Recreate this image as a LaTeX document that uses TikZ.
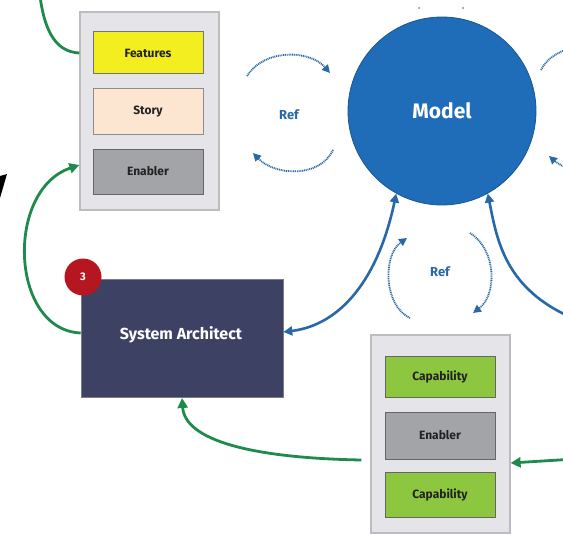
\documentclass[tikz,border=0pt]{standalone}
\usepackage{fontspec}
\setmainfont{Fira Sans}
\usetikzlibrary{arrows.meta}
\definecolor{panelgrey}{HTML}{E4E4E9}
\definecolor{panelline}{HTML}{BDBDC0}
\definecolor{featyellow}{HTML}{F2EE1F}
\definecolor{storypeach}{HTML}{FCE6D1}
\definecolor{enablegrey}{HTML}{A2A4A8}
\definecolor{capgreen}{HTML}{8DC63F}
\definecolor{modelblue}{HTML}{1F6CB8}
\definecolor{linkblue}{HTML}{2868A8}
\definecolor{flowgreen}{HTML}{1F8A4C}
\definecolor{archnavy}{HTML}{3D4264}
\definecolor{badgered}{HTML}{B5161F}
\definecolor{textdark}{HTML}{222222}
\tikzset{
  panel/.style={draw=panelline, line width=1.2pt, fill=panelgrey, minimum width=139pt, minimum height=198pt, inner sep=0pt},
  item/.style={line width=1pt, minimum width=110pt, inner sep=0pt,
    font=\bfseries\fontsize{12}{14}\selectfont, text=textdark},
  flow/.style={draw=flowgreen, line width=2.8pt, -{Triangle[length=10pt,width=10pt]}},
  flowplain/.style={draw=flowgreen, line width=2.8pt},
  link/.style={draw=linkblue, line width=2.6pt},
  refarc/.style={draw=linkblue, line width=1.8pt, dash pattern=on 1pt off 0.8pt, -{Triangle[length=8pt,width=8pt]}},
  reftext/.style={text=linkblue, font=\bfseries\fontsize{13}{15}\selectfont},
}
\begin{document}
\begin{tikzpicture}[x=1pt,y=-1pt]
\useasboundingbox (0,0) rectangle (563,535);
\clip (0,0) rectangle (563,535);
\fill[white] (0,0) rectangle (563,535);

% slanted black stroke at the left edge
\fill[black] (0,176) -- (7,174) -- (0,198) -- cycle;

% backlog panel, upper left
\node[panel] (lpanel) at (149.5,111) {};
\node[item, fill=featyellow, draw=black!55, minimum height=42pt] (feat) at (148,53) {Features};
\node[item, fill=storypeach, draw=black!45, minimum height=46pt] (story) at (148,112) {Story};
\node[item, fill=enablegrey, draw=black!60, minimum height=45pt] (enA) at (148,171.5) {Enabler};

% model
\node[circle, fill=modelblue, draw=modelblue!80!black, line width=0.8pt, minimum size=188pt, inner sep=0pt,
  text=white, font=\bfseries\fontsize{21}{24}\selectfont] (model) at (442,111) {Model};
\fill[gray] (419,8) circle (1pt);
\fill[gray] (463,8) circle (1pt);

% system architect
\node[fill=archnavy, draw=archnavy!70!white, line width=0.6pt, minimum width=202pt, minimum height=118pt] (sa) at (182,338) {};
\node[text=white, font=\bfseries\fontsize{16}{18}\selectfont] (satext) at (181,335) {System Architect};
\node[circle, fill=badgered, minimum size=37pt, inner sep=0pt, text=white,
  font=\bfseries\fontsize{11}{13}\selectfont] (badge) at (83,277) {3};

% capability panel, lower right
\node[panel] (rpanel) at (440.5,434) {};
\node[item, fill=capgreen, draw=black!60, minimum height=41pt] (capA) at (440,376.5) {Capability};
\node[item, fill=enablegrey, draw=black!60, minimum height=47pt] (enB) at (440,435.5) {Enabler};
\node[item, fill=capgreen, draw=black!60, minimum height=45pt] (capB) at (440,494.5) {Capability};

% reference labels
\node[reftext] (refL) at (289,115) {Ref};
\node[reftext] (refB) at (440,272) {Ref};

% free ends of connectors leaving the frame
\coordinate (topin) at (40,-4);
\coordinate (rightin) at (575,319);
\coordinate (greenin) at (575,459);
\coordinate (dotsR) at (572,48);
\coordinate (dotsR2) at (585,176);

% green flows
\draw[flowplain] (topin) .. controls (45,35) and (58,52) .. (lpanel.west |- 0,53);
\draw[flow] (sa.west |- 0,333) .. controls (10,330) and (5,190) .. (lpanel.west |- 0,165);
\draw[flow] (rpanel.west |- 0,460) ++(-9,0) .. controls (250,458) and (185,440) .. (sa.south |- 0,398);
\draw[flow] (greenin) -- (rpanel.east |- 0,463);

% blue links to the model
\draw[link, {Triangle[length=9pt,width=9pt]}-{Triangle[length=9pt,width=9pt]}]
  (sa.east |- 0,332) .. controls (340,325) and (378,280) .. (model.-119);
\draw[link, -{Triangle[length=9pt,width=9pt]}] (rightin) .. controls (505,290) and (497,240) .. (model.-61);

% dotted reference arcs
\draw[refarc] (247,76) .. controls (265,48) and (310,50) .. (330,73);
\draw[refarc] (333,150) .. controls (320,178) and (275,176) .. (253,153);
\draw[refarc] (410,318) .. controls (383,305) and (383,255) .. (407,238);
\draw[refarc] (470,233) .. controls (497,250) and (497,295) .. (473,313);
\draw[refarc, -] (541,70) .. controls (546,60) and (556,52) .. (dotsR);
\draw[refarc] (dotsR2) .. controls (570,170) and (558,164) .. (549,156);
\end{tikzpicture}
\end{document}
